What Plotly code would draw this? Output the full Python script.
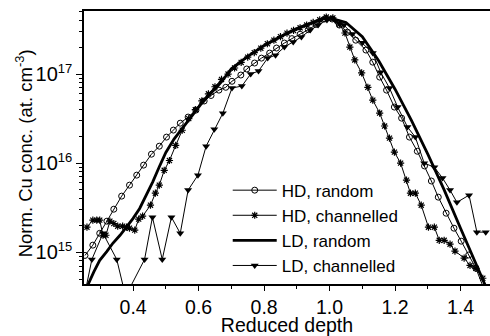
import plotly.graph_objects as go

# ---- data ----
hd_random_x = [0.253, 0.277, 0.298, 0.320, 0.341, 0.365, 0.389, 0.411, 0.432, 0.456,
               0.480, 0.502, 0.523, 0.544, 0.568, 0.592, 0.617, 0.638, 0.662, 0.683,
               0.702, 0.729, 0.747, 0.771, 0.792, 0.817, 0.838, 0.862, 0.885, 0.910,
               0.935, 0.960, 0.985, 1.008, 1.030, 1.055, 1.080, 1.111, 1.132, 1.153,
               1.174, 1.198, 1.220, 1.244, 1.268, 1.290, 1.311, 1.332, 1.356, 1.380,
               1.402, 1.425, 1.447, 1.470]
hd_random_y = [9.2e14, 1.2e15, 1.63e15, 2.23e15, 3.04e15, 4.26e15, 5.66e15, 7.33e15, 9.5e15, 1.26e16,
               1.55e16, 1.96e16, 2.35e16, 2.81e16, 3.29e16, 3.94e16, 4.98e16, 5.75e16, 6.6e16, 7.1e16,
               8.3e16, 9.75e16, 1.14e17, 1.33e17, 1.51e17, 1.72e17, 1.96e17, 2.23e17, 2.5e17, 2.8e17,
               3.15e17, 3.6e17, 4.15e17, 4.15e17, 3.55e17, 2.95e17, 2.4e17, 1.86e17, 1.36e17, 9.25e16,
               6.6e16, 4.26e16, 3.2e16, 1.96e16, 1.36e16, 9.3e15, 6.3e15, 4.15e15, 2.74e15, 1.86e15,
               1.33e15, 9.3e14, 6.6e14, 4.0e14]

hd_chan_x = [0.259, 0.277, 0.289, 0.298, 0.308, 0.317, 0.329, 0.341, 0.353, 0.368,
             0.380, 0.389, 0.405, 0.417, 0.429, 0.453, 0.468, 0.480, 0.495, 0.511,
             0.530, 0.550, 0.570, 0.590, 0.610, 0.630, 0.650, 0.670, 0.690, 0.710,
             0.730, 0.750, 0.770, 0.790, 0.810, 0.830, 0.850, 0.870, 0.890, 0.910,
             0.930, 0.950, 0.970, 0.990, 1.010, 1.030, 1.047, 1.062, 1.077, 1.098,
             1.117, 1.132, 1.153, 1.168, 1.183, 1.198, 1.217, 1.235, 1.247, 1.262,
             1.280, 1.302, 1.320, 1.335, 1.350, 1.368, 1.383, 1.411, 1.429, 1.447,
             1.468]
hd_chan_y = [1.91e15, 2.29e15, 2.29e15, 2.29e15, 1.55e15, 1.55e15, 2.23e15, 2.1e15, 1.96e15, 1.96e15,
             1.91e15, 1.86e15, 1.77e15, 2.35e15, 2.54e15, 3.37e15, 4.6e15, 5.66e15, 8.3e15, 1.07e16,
             1.58e16, 2.34e16, 3.16e16, 3.98e16, 5.0e16, 6.0e16, 7.2e16, 8.7e16, 1.0e17, 1.17e17,
             1.35e17, 1.55e17, 1.74e17, 1.95e17, 2.19e17, 2.4e17, 2.63e17, 2.88e17, 3.09e17, 3.31e17,
             3.55e17, 3.8e17, 4.07e17, 4.37e17, 4.27e17, 3.63e17, 2.89e17, 2.01e17, 1.44e17, 1.03e17,
             7.1e16, 5.1e16, 3.65e16, 2.61e16, 1.91e16, 1.33e16, 1.0e16, 6.44e15, 4.6e15, 4.6e15,
             3.37e15, 1.91e15, 1.91e15, 1.36e15, 1.36e15, 1.23e15, 1.03e15, 8.6e14, 7.1e14, 6.6e14,
             5.1e14]

ld_random_x = [0.250, 0.262, 0.280, 0.298, 0.320, 0.338, 0.360, 0.380, 0.400, 0.420,
               0.440, 0.460, 0.480, 0.500, 0.525, 0.553, 0.580, 0.605, 0.630, 0.653,
               0.674, 0.700, 0.750, 0.800, 0.850, 0.900, 0.950, 0.985, 1.000, 1.050,
               1.100, 1.150, 1.200, 1.250, 1.300, 1.350, 1.400, 1.450, 1.490]
ld_random_y = [4.0e14, 4.3e14, 6.0e14, 8.1e14, 1.02e15, 1.26e15, 1.55e15, 1.91e15, 2.4e15, 3.1e15,
               4.37e15, 6.17e15, 9.1e15, 1.32e16, 1.86e16, 2.54e16, 3.47e16, 4.49e16, 5.75e16, 6.97e16,
               8.57e16, 1.15e17, 1.58e17, 2.09e17, 2.63e17, 3.24e17, 3.8e17, 4.27e17, 4.27e17, 3.8e17,
               2.63e17, 1.41e17, 6.76e16, 3.02e16, 1.26e16, 5.0e15, 1.86e15, 6.9e14, 3.2e14]

ld_chan_x = [0.245, 0.274, 0.308, 0.350, 0.377, 0.435, 0.459, 0.489, 0.517, 0.544,
             0.568, 0.598, 0.623, 0.648, 0.674, 0.702, 0.732, 0.759, 0.783, 0.811,
             0.835, 0.862, 0.889, 0.914, 0.941, 0.965, 0.992, 1.018, 1.044, 1.070,
             1.100, 1.132, 1.156, 1.183, 1.208, 1.238, 1.262, 1.289, 1.320, 1.345,
             1.368, 1.389, 1.426, 1.450, 1.477]
ld_chan_y = [2.5e14, 8.3e14, 1.63e15, 8.3e14, 3.2e14, 8.3e14, 2.47e15, 8.3e14, 2.47e15, 1.63e15,
             4.98e15, 7.33e15, 1.55e16, 2.4e16, 3.63e16, 6.97e16, 7.33e16, 1.0e17, 1.08e17, 1.51e17,
             1.63e17, 2.01e17, 2.29e17, 2.61e17, 3.12e17, 3.55e17, 4.05e17, 3.98e17, 3.55e17, 2.82e17,
             2.24e17, 1.72e17, 1.05e17, 6.97e16, 4.26e16, 2.54e16, 1.96e16, 1.0e16, 9.0e15, 6.8e15,
             4.98e15, 3.63e15, 4.37e15, 1.68e15, 1.68e15]

x_tick_vals = [0.4, 0.6, 0.8, 1.0, 1.2, 1.4]
x_tick_text = ["0.4", "0.6", "0.8", "1.0", "1.2", "1.4"]
y_tick_vals = [1e15, 1e16, 1e17]
y_tick_text = ["10<sup><span style='font-size:13px'>15</span></sup>",
               "10<sup><span style='font-size:13px'>16</span></sup>",
               "10<sup><span style='font-size:13px'>17</span></sup>"]
y_minor_vals = [m * 10 ** e for e in (14, 15, 16, 17) for m in range(2, 10)]

FONT = "Liberation Sans, Arial, Helvetica, sans-serif"

fig = go.Figure()
fig.add_trace(go.Scatter(
    x=hd_random_x, y=hd_random_y, mode="lines+markers", name="HD, random",
    line=dict(color="black", width=1),
    marker=dict(symbol="circle-open", size=6, color="black", line=dict(width=1))))
fig.add_trace(go.Scatter(
    x=hd_chan_x, y=hd_chan_y, mode="lines+markers", name="HD, channelled",
    line=dict(color="black", width=1),
    marker=dict(symbol="asterisk-open", size=6, color="black", line=dict(width=1.2, color="black"))))
fig.add_trace(go.Scatter(
    x=ld_random_x, y=ld_random_y, mode="lines", name="LD, random",
    line=dict(color="black", width=2.8)))
fig.add_trace(go.Scatter(
    x=ld_chan_x, y=ld_chan_y, mode="lines+markers", name="LD, channelled",
    line=dict(color="black", width=1),
    marker=dict(symbol="triangle-down", size=7, color="black")))

fig.update_layout(
    width=490, height=336,
    margin=dict(l=84, r=0, t=11, b=52),
    paper_bgcolor="white", plot_bgcolor="white",
    font=dict(family=FONT, size=18, color="black"),
    showlegend=True,
    legend=dict(x=0.354, y=0.408, xanchor="left", yanchor="top",
                bgcolor="rgba(0,0,0,0)", borderwidth=0, itemwidth=44,
                tracegroupgap=0, font=dict(size=17)),
    xaxis=dict(
        range=[0.25, 1.49], tickmode="array", tickvals=x_tick_vals, ticktext=x_tick_text,
        showline=True, linecolor="black", linewidth=1.5, mirror=True,
        ticks="outside", ticklen=5, tickwidth=1, tickcolor="black",
        minor=dict(dtick=0.1, tick0=0.0, ticks="outside", ticklen=3, tickcolor="black"),
        showgrid=False, zeroline=False, automargin=False,
        title=dict(text="Reduced depth", font=dict(size=19.5), standoff=6),
        tickfont=dict(size=19.5),
    ),
    yaxis=dict(
        type="log", range=[14.643, 17.708], tickmode="array",
        tickvals=y_tick_vals, ticktext=y_tick_text,
        showline=True, linecolor="black", linewidth=1.5, mirror=False,
        ticks="outside", ticklen=6, tickwidth=1, tickcolor="black",
        minor=dict(tickmode="array", tickvals=y_minor_vals, ticks="outside",
                   ticklen=3, tickcolor="black"),
        showgrid=False, zeroline=False, automargin=False,
        tickfont=dict(size=20),
    ),
    annotations=[dict(
        text="Norm. Cu conc. (at. cm<sup>-3</sup>)", textangle=-90,
        xref="paper", yref="paper", x=-0.147, y=0.48,
        xanchor="center", yanchor="middle", showarrow=False,
        font=dict(size=18.5, family=FONT, color="black"))],
)

fig.write_html("out.html", config={"displayModeBar": False},
               post_script="document.body.style.margin='0px';document.body.style.overflow='hidden';")
